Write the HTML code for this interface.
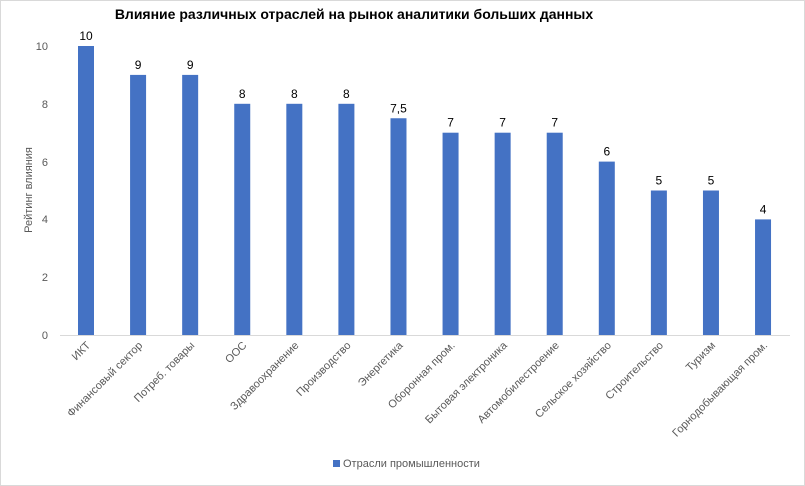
<!DOCTYPE html>
<html><head><meta charset="utf-8"><style>
html,body{margin:0;padding:0;background:#fff}
svg{display:block;font-family:"Liberation Sans","DejaVu Sans",sans-serif}
</style></head><body>
<svg width="805" height="486" viewBox="0 0 805 486" xmlns="http://www.w3.org/2000/svg">
<rect x="0.5" y="0.5" width="804" height="485" fill="#fff" stroke="#d9d9d9"/>
<text x="354" y="19" text-anchor="middle" font-size="14" font-weight="bold" fill="#000">Влияние различных отраслей на рынок аналитики больших данных</text>
<g font-size="11" fill="#595959" text-anchor="end">
<text x="48" y="339">0</text><text x="48" y="281">2</text><text x="48" y="223">4</text><text x="48" y="166">6</text><text x="48" y="108">8</text><text x="48" y="50">10</text>
</g>
<text transform="translate(32,190) rotate(-90)" text-anchor="middle" font-size="11" fill="#595959">Рейтинг влияния</text>
<line x1="60" y1="335.5" x2="790" y2="335.5" stroke="#d9d9d9"/>
<g fill="#4472c4">
<rect x="78" y="46" width="16" height="289"/>
<rect x="130.08" y="74.9" width="16" height="260.1"/>
<rect x="182.16" y="74.9" width="16" height="260.1"/>
<rect x="234.24" y="103.8" width="16" height="231.2"/>
<rect x="286.32" y="103.8" width="16" height="231.2"/>
<rect x="338.4" y="103.8" width="16" height="231.2"/>
<rect x="390.48" y="118.25" width="16" height="216.75"/>
<rect x="442.56" y="132.7" width="16" height="202.3"/>
<rect x="494.64" y="132.7" width="16" height="202.3"/>
<rect x="546.72" y="132.7" width="16" height="202.3"/>
<rect x="598.8" y="161.6" width="16" height="173.4"/>
<rect x="650.88" y="190.5" width="16" height="144.5"/>
<rect x="702.96" y="190.5" width="16" height="144.5"/>
<rect x="755.04" y="219.4" width="16" height="115.6"/>
</g>
<g font-size="12" fill="#000" text-anchor="middle">
<text x="86" y="40">10</text>
<text x="138.08" y="68.9">9</text>
<text x="190.16" y="68.9">9</text>
<text x="242.24" y="97.8">8</text>
<text x="294.32" y="97.8">8</text>
<text x="346.4" y="97.8">8</text>
<text x="398.48" y="112.25">7,5</text>
<text x="450.56" y="126.7">7</text>
<text x="502.64" y="126.7">7</text>
<text x="554.72" y="126.7">7</text>
<text x="606.8" y="155.6">6</text>
<text x="658.88" y="184.5">5</text>
<text x="710.96" y="184.5">5</text>
<text x="763.04" y="213.4">4</text>
</g>
<g font-size="11" fill="#595959" text-anchor="end">
<text transform="translate(91,346) rotate(-45)">ИКТ</text>
<text transform="translate(143.08,346) rotate(-45)">Финансовый сектор</text>
<text transform="translate(195.16,346) rotate(-45)">Потреб. товары</text>
<text transform="translate(247.24,346) rotate(-45)">ООС</text>
<text transform="translate(299.32,346) rotate(-45)">Здравоохранение</text>
<text transform="translate(351.4,346) rotate(-45)">Производство</text>
<text transform="translate(403.48,346) rotate(-45)">Энергетика</text>
<text transform="translate(455.56,346) rotate(-45)">Оборонная пром.</text>
<text transform="translate(507.64,346) rotate(-45)">Бытовая электроника</text>
<text transform="translate(559.72,346) rotate(-45)">Автомобилестроение</text>
<text transform="translate(611.8,346) rotate(-45)">Сельское хозяйство</text>
<text transform="translate(663.88,346) rotate(-45)">Строительство</text>
<text transform="translate(715.96,346) rotate(-45)">Туризм</text>
<text transform="translate(768.04,346) rotate(-45)">Горнодобывающая пром.</text>
</g>
<rect x="333" y="460" width="7" height="7" fill="#4472c4"/>
<text x="343" y="467" font-size="11" fill="#595959">Отрасли промышленности</text>
</svg>
</body></html>
